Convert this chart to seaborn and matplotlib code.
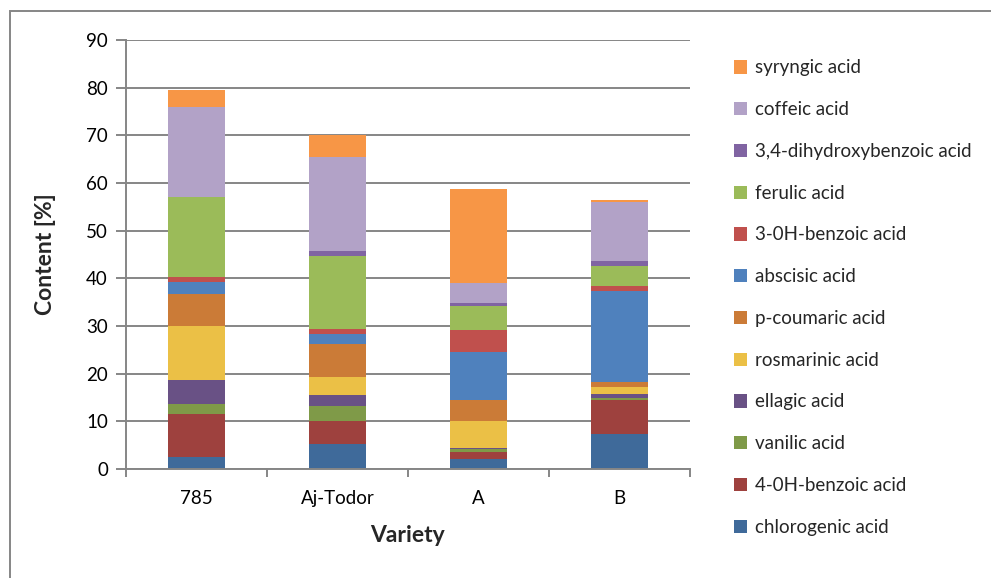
import matplotlib
matplotlib.use("Agg")
import matplotlib.pyplot as plt
from matplotlib.patches import Rectangle, Patch
import numpy as np
import pandas as pd
import seaborn as sns

# Varieties on the x axis
varieties = ["785", "Aj-Todor", "A", "B"]

# Phenolic acids, bottom of the stack first
acids = [
    "chlorogenic acid",
    "4-0H-benzoic acid",
    "vanilic acid",
    "ellagic acid",
    "rosmarinic acid",
    "p-coumaric acid",
    "abscisic acid",
    "3-0H-benzoic acid",
    "ferulic acid",
    "3,4-dihydroxybenzoic acid",
    "coffeic acid",
    "syryngic acid",
]

# Content [%] per acid, one value per variety (785, Aj-Todor, A, B)
chlorogenic = [2.6, 5.25, 2.0, 7.3]
hydroxybenzoic_4 = [8.9, 4.9, 1.6, 7.2]
vanilic = [2.1, 3.05, 0.5, 0.4]
ellagic = [5.1, 2.4, 0.4, 0.9]
rosmarinic = [11.4, 3.65, 5.5, 1.3]
p_coumaric = [6.6, 7.0, 4.4, 1.2]
abscisic = [2.6, 2.1, 10.1, 19.0]
hydroxybenzoic_3 = [1.0, 1.05, 4.6, 1.0]
ferulic = [16.8, 15.2, 5.0, 4.3]
dihydroxybenzoic_34 = [0.0, 1.05, 0.8, 1.1]
coffeic = [18.8, 19.7, 4.1, 12.4]
syryngic = [3.7, 4.7, 19.7, 0.4]

series = [chlorogenic, hydroxybenzoic_4, vanilic, ellagic, rosmarinic,
          p_coumaric, abscisic, hydroxybenzoic_3, ferulic,
          dihydroxybenzoic_34, coffeic, syryngic]

colors = ["#3F6A9A", "#9E413E", "#7F9A48", "#695185", "#EBC046", "#CB7B37",
          "#4F81BD", "#C0504D", "#9BBB59", "#8064A2", "#B2A2C7", "#F79646"]

df = pd.DataFrame({"variety": varieties})
for name, vals in zip(acids, series):
    df[name] = vals

sns.set_theme(style="white")
plt.rcParams["font.family"] = ["Lato", "DejaVu Sans"]

fig = plt.figure(figsize=(9.91, 5.78), dpi=100)
ax = fig.add_axes([126 / 991, 1 - 469 / 578, (690 - 126) / 991, (469 - 40) / 578])

grid_color = "#868686"
ax.set_axisbelow(True)
ax.yaxis.grid(True, color=grid_color, linewidth=1.4)

bottom = np.zeros(len(varieties))
for name, col in zip(acids, colors):
    sns.barplot(data=df, x="variety", y=name, color=col, width=0.4,
                bottom=bottom, ax=ax, saturation=1, linewidth=0,
                order=varieties)
    bottom = bottom + df[name].to_numpy()

ax.set_ylim(0, 90)
ax.set_xlim(-0.5, 3.5)
ax.set_yticks(np.arange(0, 91, 10))
ax.set_yticklabels([str(v) for v in range(0, 91, 10)], fontsize=13.5)
ax.set_xticks(range(len(varieties)))
ax.set_xticklabels(varieties, fontsize=13.5)
ax.set_xticks(np.arange(-0.5, 3.6, 1.0), minor=True)
ax.tick_params(axis="x", which="major", length=0, pad=15, colors="black")
ax.tick_params(axis="x", which="minor", length=6, width=1.4, color=grid_color,
               direction="out", bottom=True)
ax.tick_params(axis="y", length=7, width=1.4, color=grid_color, direction="out",
               left=True, pad=6, colors="black")

for side in ["top", "right"]:
    ax.spines[side].set_visible(False)
for side in ["left", "bottom"]:
    ax.spines[side].set_color(grid_color)
    ax.spines[side].set_linewidth(1.4)

ax.set_ylabel("Content [%]", fontsize=16.5, fontweight="bold", labelpad=22)
ax.set_xlabel("Variety", fontsize=16.5, fontweight="bold", labelpad=13)

handles = [Patch(facecolor=c, edgecolor="none") for c in colors][::-1]
labels = acids[::-1]
fig.legend(handles, labels, loc="upper left",
           bbox_to_anchor=(726 / 991, 1 - 52 / 578), frameon=False,
           fontsize=13.5, handlelength=0.7, handleheight=0.7,
           handletextpad=0.45, labelspacing=1.32, borderaxespad=0)

# Chart-area frame
fig.patches.append(Rectangle((10 / 991, -0.05), 1.2, (578 - 11) / 578 + 0.05,
                             transform=fig.transFigure, fill=False,
                             edgecolor=grid_color, linewidth=1.4))

fig.savefig("out.png", dpi=100)
